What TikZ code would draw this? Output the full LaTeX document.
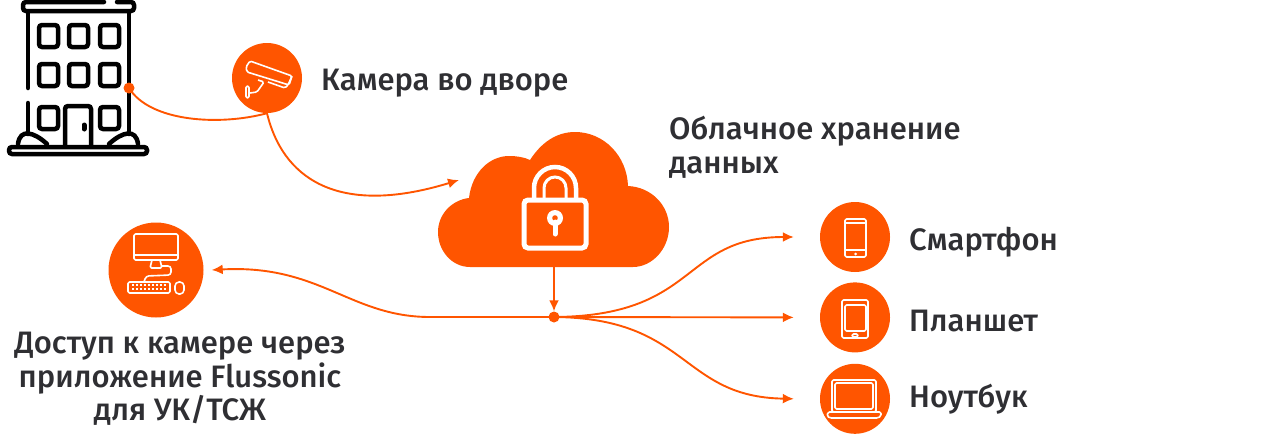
\documentclass[tikz,border=0pt]{standalone}
\usepackage{fontspec}
\setmainfont{Fira Sans}[BoldFont=* Medium]
\usepackage{tikz}
\usetikzlibrary{arrows.meta, positioning}
\definecolor{brand}{HTML}{FF5500}
\definecolor{ink}{HTML}{2F2F33}
\tikzstyle{line} = [draw=brand, line width=1.9, -{Latex[length=11,width=10]}]
\tikzstyle{wire} = [draw=brand, line width=1.9]
\tikzstyle{disc} = [circle, fill=brand, inner sep=0pt, minimum size=70]
\tikzstyle{bigdisc} = [disc, minimum size=95]
\tikzstyle{dot} = [circle, fill=brand, inner sep=0pt, minimum size=11]
\tikzstyle{label} = [font=\fontsize{31}{33.5}\selectfont\bfseries, text=ink, inner sep=0pt]
\tikzstyle{icon} = [draw=white, line width=1.6, line join=round, rounded corners=1.5]
\tikzstyle{bld} = [draw=black, line width=4.5, line cap=round, rounded corners=3]

\begin{document}
\begin{tikzpicture}[x=1pt, y=-1pt]
    \useasboundingbox (0,0) rectangle (1268,434);

    % building
    \draw [bld] (104,2) -- (23,2) -- (23,11) -- (134,11) -- (134,2) -- (117,2);
    \draw [bld] (28,13) -- (28,88);
    \draw [bld] (28,103) -- (28,134);
    \draw [bld] (129,13) -- (129,134);
    \foreach \x in {39,69,100} {
      \draw [bld] (\x,25) rectangle +(19,22);
      \draw [bld] (\x,64) rectangle +(19,22);
    }
    \draw [bld] (39,107) rectangle +(19,22);
    \draw [bld] (100,107) rectangle +(19,22);
    \draw [bld] (65,145) -- (65,106) -- (91,106) -- (91,145);
    \draw [draw=black, line width=5, line cap=round] (84,125) -- (84,129);
    \draw [bld] (18,144) .. controls (20,128) and (34,132) .. (47,144);
    \draw [bld] (109,144) .. controls (122,132) and (136,128) .. (138,144);
    \draw [bld] (9,147) rectangle (147,154);

    \node [dot] (wall) at (129,88) {};
    \node [disc] (camera) at (267,78) {};
    \node [bigdisc] (desktop) at (156,270) {};
    \node [disc] (phone) at (855,237) {};
    \node [disc, below=10pt of phone] (tablet) {};
    \node [disc, below=11pt of tablet] (laptop) {};
    \node [dot] (hub) at (554,317) {};

    % cloud
    \fill [brand] (470,267) .. controls (452,267) and (438,251) .. (438,232)
      .. controls (438,214) and (452,200) .. (469,198)
      .. controls (472,172) and (490,156) .. (509,156)
      .. controls (516,156) and (524,157) .. (530,160)
      .. controls (541,143) and (556,132) .. (575,132)
      .. controls (604,132) and (627,156) .. (628,186)
      .. controls (651,187) and (669,205) .. (669,227)
      .. controls (669,249) and (652,267) .. (633,267) -- cycle;
    \coordinate (cloudbottom) at (554,267);
    \coordinate (cloudin) at (459,180);
    \coordinate [right=8pt of desktop.east] (desktopin);
    \coordinate [left=26pt of phone.west] (phonein);
    \coordinate [left=26pt of tablet.west] (tabletin);
    \coordinate [left=26pt of laptop.west] (laptopin);

    % lock
    \draw [draw=white, line width=5, rounded corners=4] (524,200) rectangle (586,248);
    \draw [draw=white, line width=4.5] (534,199) -- (534,188) arc[start angle=180, end angle=360, radius=21] -- (576,199);
    \draw [draw=white, line width=3] (544,199) -- (544,188) arc[start angle=180, end angle=360, radius=11] -- (566,199);
    \fill [white] (555,218) circle (8);
    \fill [brand] (555,218) circle (2.8);
    \draw [draw=white, line width=5, line cap=round] (555,222) -- (555,234);

    % camera
    \draw [icon] (250,61) -- (292,76) -- (289,85) -- (247,72) -- (246,67) -- cycle;
    \draw [icon] (292,76) -- (288,85) -- (285,88) -- (268,82);
    \draw [icon] (258,80) -- (264,82) -- (257,92) -- (250,93);
    \draw [icon] (246,86) -- (249,86) -- (249,98) -- (246,98) -- cycle;

    % desktop
    \draw [icon] (134,234) rectangle (178,260);
    \draw [icon] (134,255) -- (178,255);
    \draw [icon] (152,260) -- (150,268) -- (162,268) -- (160,260);
    \draw [icon, rounded corners=3] (162,266) -- (171,266) -- (171,275) -- (146,276) -- (144,282);
    \draw [icon] (128,282) rectangle (170,293);
    \draw [draw=white, line width=2, dash pattern=on 2 off 2] (132,285) -- (166,285);
    \draw [draw=white, line width=2, dash pattern=on 2 off 2] (132,289) -- (166,289);
    \draw [icon, rounded corners=4] (175,282) rectangle (184,294);

    % phone
    \draw [icon] (845,219) rectangle (866,257);
    \draw [icon] (845,223) -- (866,223);
    \draw [icon] (845,250) -- (866,250);
    \fill [white] (855.5,254) circle (1.5);

    % tablet
    \draw [icon] (842,300) rectangle (868,338);
    \draw [icon] (845,305) rectangle (866,331);
    \draw [icon] (852,334) rectangle (858,337);

    % laptop
    \draw [icon] (832,380) rectangle (876,412);
    \draw [icon] (835,383) rectangle (873,409);
    \draw [icon] (828,412) -- (881,412) -- (881,416) -- (878,418) -- (830,418) -- (827,416) -- cycle;

    \node [label, anchor=west] (cameratext) at (321,83) {Камера во дворе};
    \node [label, anchor=north west, align=left] (cloudtext) at (669,116) {Облачное хранение\\данных};
    \node [label, anchor=west] (phonetext) at (909,242) {Смартфон};
    \node [label, anchor=west] (tablettext) at (909,321) {Планшет};
    \node [label, anchor=west] (laptoptext) at (909,399) {Ноутбук};
    \node [label, align=center, anchor=north] (desktoptext) at (180,332) {Доступ к камере через\\приложение Flussonic\\для УК/ТСЖ};

    \path [wire] (wall.center) .. controls (150,122) and (220,126) .. (camera.south);
    \path [line] (camera.south) .. controls (282,176) and (335,218) .. (cloudin);
    \path [line] (cloudbottom) -- (hub.north);
    \path [line] (hub.center) -- (430,317) .. controls (350,317) and (320,264) .. (desktopin);
    \path [line] (hub.center) .. controls (700,316) and (680,237) .. (phonein);
    \path [line] (hub.center) -- (tabletin);
    \path [line] (hub.center) .. controls (690,318) and (680,397) .. (laptopin);
\end{tikzpicture}
\end{document}
